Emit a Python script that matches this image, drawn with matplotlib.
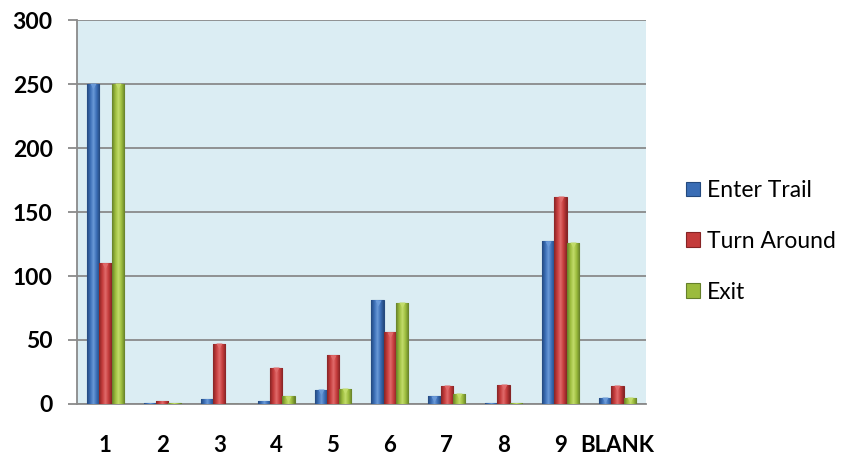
import numpy as np
import matplotlib.pyplot as plt
from matplotlib.colors import LinearSegmentedColormap

categories = ['1', '2', '3', '4', '5', '6', '7', '8', '9', 'BLANK']
enter_trail = [250, 1, 4, 2, 11, 81, 6, 1, 127, 5]
turn_around = [110, 2, 47, 28, 38, 56, 14, 15, 162, 14]
exit_vals = [250, 1, 0, 6, 12, 79, 8, 1, 126, 5]

series = [('Enter Trail', enter_trail, '#3a6db5', '#24497e', '#6a9ad8'),
          ('Turn Around', turn_around, '#c43b3b', '#862425', '#e06a6a'),
          ('Exit', exit_vals, '#9bbb3c', '#65802a', '#c2dc6a')]

plt.rcParams['font.family'] = ['Lato', 'DejaVu Sans']

fig = plt.figure(figsize=(8.44, 4.58), dpi=100)
ax = fig.add_axes([0.0912, 0.118, 0.674, 0.838])
ax.set_facecolor('#dbedf3')

x = np.arange(len(categories))
w = 0.216
ax.set_xlim(-0.5, len(categories) - 0.5)
ax.set_ylim(0, 300)

for i, (name, vals, col, edge, light) in enumerate(series):
    bars = ax.bar(x + (i - 1) * w, vals, width=w, color=col, edgecolor=edge,
                  linewidth=0.8, label=name, zorder=3)
    # horizontal shading across each bar
    cmap = LinearSegmentedColormap.from_list(name, [edge, col, light, col, edge])
    grad = np.linspace(0, 1, 64).reshape(1, -1)
    for b in bars:
        if b.get_height() <= 0:
            continue
        im = ax.imshow(grad, cmap=cmap, aspect='auto', zorder=3.5,
                       extent=[b.get_x(), b.get_x() + b.get_width(), 0, b.get_height()])
        im.set_clip_path(b)
        if b.get_height() > 4:
            ax.plot(b.get_x() + b.get_width() / 2, b.get_height() - 1.8, marker='v',
                    ms=5, color=light, mec='none', zorder=4)

ax.set_xlim(-0.5, len(categories) - 0.5)
ax.set_ylim(0, 300)
ax.set_yticks(range(0, 301, 50))
ax.yaxis.grid(True, color='#8a8a8a', linewidth=1.3, zorder=1)
ax.set_axisbelow(True)

for s in ['top', 'right']:
    ax.spines[s].set_visible(False)
for s in ['left', 'bottom']:
    ax.spines[s].set_color('#8a8a8a')
    ax.spines[s].set_linewidth(1.3)

ax.set_xticks(x)
ax.set_xticklabels(categories, fontweight='bold', fontsize=16)
ax.tick_params(axis='x', length=0, pad=22)
ax.tick_params(axis='y', length=6.5, color='#8a8a8a', width=1.3, labelsize=16.5, pad=11)
for lab in ax.get_yticklabels():
    lab.set_fontweight('bold')

ax.legend(loc='center left', bbox_to_anchor=(1.035, 0.424), frameon=False,
          fontsize=16.5, handlelength=0.6, handleheight=0.6, handletextpad=0.3,
          labelspacing=1.3)

plt.savefig('out.png', dpi=100)
